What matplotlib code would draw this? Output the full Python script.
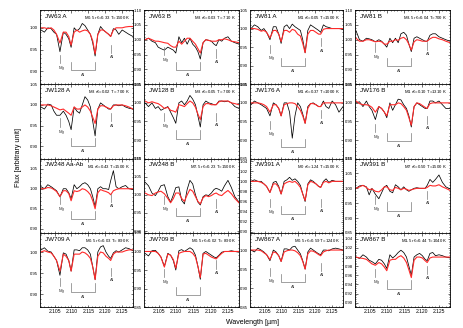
import matplotlib
matplotlib.use('Agg')
import matplotlib.pyplot as plt
from matplotlib.ticker import MultipleLocator, FormatStrFormatter

plt.rcParams['font.family'] = ['Liberation Sans', 'DejaVu Sans']
plt.rcParams['mathtext.fontset'] = 'custom'
plt.rcParams['mathtext.rm'] = 'Liberation Sans'
plt.rcParams['mathtext.it'] = 'Liberation Sans:italic'

# shared wavelength grid (micron)
wave = [2.1010, 2.1020, 2.1030, 2.1040, 2.1048, 2.1056, 2.1066, 2.1076, 2.1084, 2.1092,
        2.1099, 2.1108, 2.1116, 2.1124, 2.1132, 2.1140, 2.1148, 2.1156, 2.1163, 2.1170,
        2.1178, 2.1186, 2.1194, 2.1202, 2.1210, 2.1216, 2.1224, 2.1232, 2.1240, 2.1250,
        2.1260, 2.1270, 2.1282]

# line positions
mg_line = 2.1066
al_lines = [2.1099, 2.1170]
al_right = 2.1216

names = ['JW63 A', 'JW63 B', 'JW81 A', 'JW81 B',
         'JW128 A', 'JW128 B', 'JW176 A', 'JW176 B',
         'JW248 Aa-Ab', 'JW248 B', 'JW391 A', 'JW391 B',
         'JW709 A', 'JW709 B', 'JW867 A', 'JW867 B']
sptype = ['M0.5', 'M3', 'M1', 'M3.5', 'M3', 'M3', 'M1', 'M1',
          'M1', 'M7.5', 'M0', 'M7', 'M0.5', 'M0.5', 'M0.5', 'M1.5']
veiling = ['0.33', '0.03', '0.05', '0.04', '0.02', '0.05', '0.37', '0.10',
           '0.43', '0.23', '1.24', '0.50', '0.03', '0.02', '0.59', '0.44']
temp = ['1500', ' 710', '1500', '700', ' 700', ' 700', '1000', '1310',
        '1500', '1500', '1500', '1500', ' 890', ' 890', '1240', '1040']

# observed (black) and model (red) spectra
obs_jw63a = [0.995, 0.990, 1.000, 0.998, 0.990, 0.985, 0.945, 0.990, 0.985, 0.975, 0.955, 1.000, 0.993, 0.998, 1.010, 1.005, 0.995, 0.985, 0.965, 0.935, 0.985, 1.003, 0.995, 0.990, 0.985, 0.980, 0.998, 0.995, 0.985, 0.995, 0.990, 0.985, 0.980]
mod_jw63a = [1.000, 1.000, 0.998, 1.000, 0.995, 0.985, 0.965, 0.990, 0.990, 0.980, 0.960, 0.990, 0.995, 0.990, 0.993, 0.995, 0.993, 0.985, 0.970, 0.940, 0.985, 0.995, 0.995, 0.990, 0.985, 0.980, 0.995, 1.000, 1.000, 1.000, 1.002, 1.003, 1.003]
obs_jw63b = [1.000, 1.005, 0.995, 0.990, 0.975, 0.970, 0.965, 0.975, 0.970, 0.965, 0.955, 1.010, 0.990, 1.005, 0.985, 1.005, 0.985, 0.975, 0.960, 0.935, 0.990, 1.000, 0.998, 0.995, 0.985, 0.980, 1.000, 0.995, 1.005, 1.010, 0.995, 0.990, 0.985]
mod_jw63b = [1.000, 1.005, 1.000, 0.995, 0.995, 0.993, 0.990, 0.988, 0.980, 0.975, 0.975, 0.995, 0.985, 0.995, 1.005, 1.005, 0.995, 0.985, 0.970, 0.955, 0.990, 1.000, 0.998, 0.995, 0.995, 0.995, 1.000, 1.000, 1.003, 1.000, 0.995, 0.993, 0.990]
obs_jw81a = [1.000, 1.010, 1.005, 0.995, 1.000, 0.990, 0.970, 1.005, 1.005, 0.985, 0.960, 1.005, 1.010, 1.000, 1.012, 1.005, 1.000, 0.995, 0.970, 0.935, 0.995, 1.010, 1.005, 1.000, 0.995, 0.990, 1.010, 1.005, 1.003, 1.000, 1.000, 1.000, 0.998]
mod_jw81a = [1.000, 1.000, 0.998, 0.993, 0.995, 0.990, 0.975, 0.995, 0.995, 0.985, 0.965, 0.995, 0.995, 0.990, 0.998, 0.995, 0.985, 0.980, 0.960, 0.935, 0.985, 0.995, 0.995, 0.990, 0.985, 0.985, 0.998, 1.000, 1.000, 1.000, 1.000, 1.000, 1.000]
obs_jw81b = [1.030, 1.000, 0.995, 1.005, 1.003, 1.000, 0.993, 1.000, 0.995, 0.985, 0.975, 1.005, 0.990, 1.005, 0.990, 1.020, 1.025, 1.015, 0.985, 0.960, 1.005, 1.010, 1.005, 1.000, 0.995, 0.995, 1.015, 1.020, 1.020, 1.010, 1.005, 1.000, 0.995]
mod_jw81b = [1.005, 0.995, 0.995, 1.000, 1.000, 0.997, 0.993, 0.995, 0.993, 0.985, 0.985, 0.995, 0.995, 1.000, 0.998, 1.005, 1.008, 1.000, 0.985, 0.965, 0.993, 1.000, 0.998, 0.995, 0.995, 0.995, 1.003, 1.008, 1.008, 1.003, 1.000, 0.995, 0.990]
obs_jw128a = [0.995, 0.990, 1.002, 1.000, 0.985, 0.975, 0.975, 0.985, 0.975, 0.960, 0.940, 0.995, 0.985, 0.980, 1.000, 1.020, 1.012, 0.995, 0.960, 0.925, 0.990, 1.005, 1.000, 0.995, 0.990, 0.990, 1.000, 1.000, 0.998, 1.000, 0.995, 0.992, 0.990]
mod_jw128a = [1.000, 1.000, 1.000, 0.998, 0.995, 0.992, 0.988, 0.990, 0.985, 0.980, 0.975, 0.995, 0.990, 0.990, 0.995, 1.000, 0.995, 0.985, 0.970, 0.955, 0.990, 0.998, 0.998, 0.995, 0.992, 0.990, 0.998, 1.000, 1.000, 1.000, 0.998, 0.995, 0.990]
obs_jw128b = [1.000, 0.990, 1.000, 0.985, 0.990, 0.980, 0.985, 0.990, 0.975, 0.960, 0.945, 1.000, 1.005, 0.995, 1.005, 1.020, 1.010, 0.995, 0.965, 0.935, 0.995, 1.005, 1.000, 0.998, 0.995, 0.995, 1.005, 1.005, 1.003, 1.005, 1.000, 0.990, 0.985]
mod_jw128b = [1.005, 1.000, 1.003, 1.000, 0.998, 0.993, 0.985, 0.988, 0.980, 0.978, 0.975, 0.995, 0.993, 0.990, 0.998, 1.005, 1.000, 0.988, 0.970, 0.955, 0.990, 0.998, 0.998, 0.995, 0.995, 0.995, 1.003, 1.005, 1.005, 1.005, 1.000, 0.998, 0.995]
obs_jw176a = [0.995, 1.005, 1.000, 0.995, 0.990, 0.985, 0.965, 1.000, 0.995, 0.985, 0.965, 1.000, 1.000, 0.975, 0.905, 0.965, 1.000, 0.990, 0.970, 0.945, 0.990, 0.998, 1.000, 0.995, 0.990, 0.990, 1.005, 0.990, 0.985, 1.005, 0.995, 0.975, 0.990]
mod_jw176a = [1.000, 1.000, 1.000, 0.998, 0.995, 0.990, 0.975, 0.995, 0.995, 0.985, 0.965, 0.995, 0.998, 1.000, 1.000, 0.998, 0.990, 0.980, 0.965, 0.945, 0.985, 0.998, 0.998, 0.995, 0.990, 0.990, 1.000, 1.000, 1.000, 1.000, 1.000, 1.000, 1.000]
obs_jw176b = [1.000, 1.003, 0.990, 1.005, 0.990, 0.980, 0.955, 0.990, 0.985, 0.975, 0.960, 1.000, 0.980, 0.995, 1.010, 1.008, 0.995, 0.985, 0.965, 0.935, 0.990, 1.000, 0.995, 0.990, 0.985, 0.985, 1.005, 1.005, 1.000, 1.005, 0.995, 0.985, 0.985]
mod_jw176b = [1.005, 0.998, 0.995, 0.995, 0.993, 0.988, 0.975, 0.990, 0.985, 0.975, 0.965, 0.995, 0.995, 0.995, 1.000, 0.998, 0.990, 0.980, 0.960, 0.940, 0.990, 1.000, 0.998, 0.993, 0.988, 0.985, 0.998, 1.000, 1.000, 1.000, 1.000, 1.000, 1.000]
obs_jw248a = [1.005, 1.000, 1.010, 1.005, 1.000, 0.995, 0.980, 1.000, 1.000, 0.990, 0.975, 1.010, 1.000, 1.005, 1.012, 1.015, 1.010, 1.000, 0.980, 0.955, 1.000, 1.005, 1.000, 1.000, 0.998, 1.020, 1.045, 1.005, 1.000, 1.005, 1.008, 1.000, 0.998]
mod_jw248a = [1.000, 1.000, 1.003, 1.002, 0.998, 0.993, 0.980, 0.995, 0.995, 0.988, 0.970, 0.995, 0.993, 0.995, 1.000, 0.998, 0.993, 0.985, 0.970, 0.950, 0.990, 0.998, 0.995, 0.993, 0.990, 0.985, 0.995, 0.998, 1.000, 1.000, 1.000, 1.000, 1.000]
obs_jw248b = [1.035, 1.025, 1.005, 0.998, 1.010, 1.025, 1.028, 0.995, 0.980, 1.000, 1.020, 1.022, 0.985, 0.975, 1.015, 1.040, 1.030, 1.000, 0.980, 0.972, 0.995, 1.000, 0.998, 1.005, 1.015, 1.018, 1.015, 1.010, 1.025, 1.040, 1.020, 0.995, 0.980]
mod_jw248b = [1.005, 1.000, 0.998, 1.005, 1.008, 1.010, 1.003, 0.990, 0.978, 0.990, 1.005, 1.005, 0.990, 0.982, 1.000, 1.015, 1.010, 0.995, 0.982, 0.975, 0.992, 0.998, 0.995, 0.998, 1.003, 1.005, 1.000, 0.998, 1.005, 1.012, 1.003, 0.990, 0.978]
obs_jw391a = [1.000, 1.003, 1.000, 1.000, 0.995, 0.990, 0.978, 0.998, 1.000, 0.990, 0.975, 1.000, 1.003, 1.008, 1.002, 1.005, 1.000, 0.992, 0.975, 0.960, 0.995, 1.003, 1.000, 0.995, 0.990, 0.988, 1.000, 1.005, 0.998, 1.002, 1.000, 1.000, 1.000]
mod_jw391a = [1.000, 1.000, 1.000, 0.998, 0.995, 0.990, 0.978, 0.995, 0.995, 0.988, 0.975, 0.995, 0.998, 1.000, 0.998, 1.000, 0.995, 0.988, 0.975, 0.962, 0.993, 1.000, 0.998, 0.995, 0.990, 0.988, 0.998, 1.000, 0.997, 1.000, 1.000, 1.000, 1.000]
obs_jw391b = [1.000, 1.008, 1.010, 1.005, 0.978, 1.000, 0.980, 0.965, 0.985, 1.005, 1.010, 0.990, 0.985, 1.012, 1.005, 0.995, 1.005, 0.995, 0.990, 0.995, 1.000, 1.002, 1.000, 1.000, 1.000, 1.010, 1.030, 1.020, 1.030, 1.045, 1.020, 1.005, 0.998]
mod_jw391b = [1.000, 1.005, 1.010, 1.003, 0.995, 0.998, 0.990, 0.988, 0.995, 1.005, 1.005, 0.995, 0.993, 1.003, 1.000, 0.995, 1.000, 0.997, 0.993, 0.995, 0.998, 1.000, 1.000, 1.000, 1.000, 1.003, 1.010, 1.008, 1.008, 1.012, 1.005, 1.000, 0.993]
obs_jw709a = [1.005, 1.010, 1.002, 1.000, 0.990, 0.980, 0.945, 0.998, 0.995, 0.980, 0.955, 1.005, 1.005, 1.003, 1.010, 1.010, 1.005, 0.995, 0.965, 0.935, 1.000, 1.012, 1.015, 1.000, 0.990, 0.985, 0.998, 1.003, 1.000, 1.005, 1.010, 1.008, 1.003]
mod_jw709a = [1.000, 1.003, 1.000, 0.998, 0.990, 0.980, 0.955, 0.995, 0.990, 0.980, 0.955, 0.995, 0.995, 0.995, 1.000, 0.998, 0.993, 0.985, 0.965, 0.935, 0.990, 1.000, 0.998, 0.990, 0.985, 0.980, 0.995, 1.000, 1.000, 1.000, 1.003, 1.005, 1.005]
obs_jw709b = [0.995, 0.988, 1.002, 1.003, 0.995, 0.985, 0.960, 0.995, 0.990, 0.975, 0.950, 1.002, 1.005, 1.000, 1.005, 1.010, 1.005, 0.990, 0.960, 0.925, 0.995, 1.000, 0.995, 0.990, 0.985, 0.983, 0.990, 0.998, 1.000, 1.000, 1.002, 1.000, 0.998]
mod_jw709b = [1.000, 1.000, 1.000, 1.000, 0.995, 0.985, 0.958, 0.993, 0.990, 0.978, 0.955, 0.995, 0.998, 1.000, 1.000, 1.000, 0.995, 0.985, 0.960, 0.930, 0.993, 0.995, 0.990, 0.985, 0.982, 0.980, 0.988, 0.995, 1.000, 1.000, 1.000, 1.000, 1.000]
obs_jw867a = [1.000, 0.995, 1.005, 1.000, 0.995, 0.988, 0.972, 1.000, 0.995, 0.985, 0.970, 1.003, 1.003, 1.000, 1.008, 1.010, 1.000, 0.990, 0.972, 0.950, 0.995, 1.005, 1.000, 0.995, 0.990, 0.988, 1.000, 1.000, 0.998, 1.003, 1.005, 1.003, 1.000]
mod_jw867a = [1.000, 1.000, 1.000, 0.998, 0.993, 0.988, 0.975, 0.995, 0.993, 0.985, 0.970, 0.995, 0.998, 1.000, 1.000, 0.998, 0.993, 0.985, 0.970, 0.950, 0.990, 0.998, 0.997, 0.993, 0.988, 0.985, 0.995, 0.998, 1.000, 1.000, 1.000, 1.000, 1.000]
obs_jw867b = [1.000, 0.997, 1.005, 1.000, 0.993, 0.990, 0.985, 0.995, 0.993, 0.985, 0.975, 1.005, 0.998, 1.003, 1.010, 1.015, 1.010, 1.000, 0.980, 0.960, 1.000, 1.005, 1.008, 1.003, 0.995, 0.992, 1.008, 1.010, 1.003, 1.005, 1.003, 1.000, 0.998]
mod_jw867b = [1.000, 0.998, 0.997, 0.995, 0.990, 0.985, 0.982, 0.988, 0.985, 0.978, 0.970, 0.993, 0.995, 0.995, 1.000, 1.003, 0.998, 0.988, 0.972, 0.955, 0.993, 1.000, 1.000, 0.998, 0.992, 0.988, 0.998, 1.000, 1.000, 1.000, 1.000, 1.000, 1.000]

observed = [obs_jw63a, obs_jw63b, obs_jw81a, obs_jw81b,
            obs_jw128a, obs_jw128b, obs_jw176a, obs_jw176b,
            obs_jw248a, obs_jw248b, obs_jw391a, obs_jw391b,
            obs_jw709a, obs_jw709b, obs_jw867a, obs_jw867b]
model = [mod_jw63a, mod_jw63b, mod_jw81a, mod_jw81b,
         mod_jw128a, mod_jw128b, mod_jw176a, mod_jw176b,
         mod_jw248a, mod_jw248b, mod_jw391a, mod_jw391b,
         mod_jw709a, mod_jw709b, mod_jw867a, mod_jw867b]

# layout: y limits, y tick step, and label heights (axes fraction) for Mg / Al bracket / Al
ylims = [(0.87, 1.041), (0.85, 1.10), (0.85, 1.05), (0.85, 1.10),
         (0.87, 1.05), (0.85, 1.05), (0.85, 1.05), (0.85, 1.05),
         (0.89, 1.075), (0.895, 1.10), (0.898, 1.045), (0.85, 1.10),
         (0.87, 1.045), (0.85, 1.05), (0.85, 1.045), (0.89, 1.053)]
ysteps = [0.05] * 10 + [0.02, 0.05, 0.05, 0.05, 0.05, 0.02]
mg_top = [0.40, 0.50, 0.53, 0.55, 0.54, 0.61, 0.51, 0.47,
          0.50, 0.50, 0.46, 0.50, 0.39, 0.52, 0.53, 0.52]
br_top = [0.30, 0.30, 0.36, 0.36, 0.28, 0.38, 0.27, 0.35,
          0.30, 0.34, 0.36, 0.41, 0.32, 0.27, 0.45, 0.36]
al_top = [0.53, 0.47, 0.62, 0.57, 0.61, 0.62, 0.65, 0.58,
          0.53, 0.45, 0.46, 0.57, 0.53, 0.63, 0.60, 0.56]

W, H = 463.0, 328.0
lefts = [40, 144, 250, 355]
widths = [93, 95, 93, 95]
top0 = 10.0
ph = 74.3

fig = plt.figure(figsize=(4.63, 3.28), dpi=100)
grey = '#7a7a7a'
tl = 0.11

for i in range(16):
    r, c = divmod(i, 4)
    ax = fig.add_axes([lefts[c] / W, 1 - (top0 + ph * (r + 1)) / H, widths[c] / W, ph / H])
    ax.plot(wave, observed[i], color='black', lw=0.55)
    ax.plot(wave, model[i], color='#ff2a2a', lw=0.8)
    ax.set_xlim(2.1007, 2.1282)
    ax.set_ylim(*ylims[i])

    ax.xaxis.set_major_locator(MultipleLocator(0.005))
    ax.xaxis.set_minor_locator(MultipleLocator(0.001))
    ax.yaxis.set_major_locator(MultipleLocator(ysteps[i]))
    ax.yaxis.set_minor_locator(MultipleLocator(ysteps[i] / 5))
    ax.yaxis.set_major_formatter(FormatStrFormatter('%.2f'))
    ax.xaxis.set_major_formatter(FormatStrFormatter('%.3f'))
    ax.tick_params(which='both', direction='in', top=True, right=True,
                   labelsize=3.1, pad=1.5, width=0.4)
    ax.tick_params(which='major', length=1.8)
    ax.tick_params(which='minor', length=0.9)
    ax.tick_params(axis='x', labelsize=3.6)
    if r < 3:
        ax.tick_params(axis='x', labelbottom=False)
    for s in ax.spines.values():
        s.set_linewidth(0.6)

    ax.text(0.05, 0.95, names[i], transform=ax.transAxes, fontsize=4.5,
            ha='left', va='top')
    info = sptype[i] + ' $r_K$=' + veiling[i] + ' T=' + temp[i] + ' K'
    ax.text(0.97, 0.94, info, transform=ax.transAxes, fontsize=3.1,
            ha='right', va='top')

    tr = ax.get_xaxis_transform()
    # Mg
    ax.plot([mg_line, mg_line], [mg_top[i], mg_top[i] - tl], color=grey,
            lw=0.5, transform=tr)
    ax.text(mg_line + 0.0004, mg_top[i] - tl - 0.04, 'Mg', transform=tr,
            fontsize=3.1, ha='center', va='top', color='#333333')
    # Al bracket
    b = br_top[i]
    ax.plot([al_lines[0], al_lines[0], al_lines[1], al_lines[1]],
            [b, b - tl, b - tl, b], color=grey, lw=0.5, transform=tr)
    ax.text(sum(al_lines) / 2, b - tl - 0.04, 'Al', transform=tr,
            fontsize=3.1, ha='center', va='top', color='#333333')
    # Al single line
    ax.plot([al_right, al_right], [al_top[i], al_top[i] - tl], color=grey,
            lw=0.5, transform=tr)
    ax.text(al_right + 0.0003, al_top[i] - tl - 0.03, 'Al', transform=tr,
            fontsize=3.1, ha='center', va='top', color='#333333')

fig.text(0.04, 0.52, 'Flux [arbitrary unit]', rotation=90, fontsize=5.0,
         ha='center', va='center')
fig.text(0.545, 0.018, 'Wavelength [\u00b5m]', fontsize=5.0,
         ha='center', va='center')

fig.savefig('out.png', dpi=100)
